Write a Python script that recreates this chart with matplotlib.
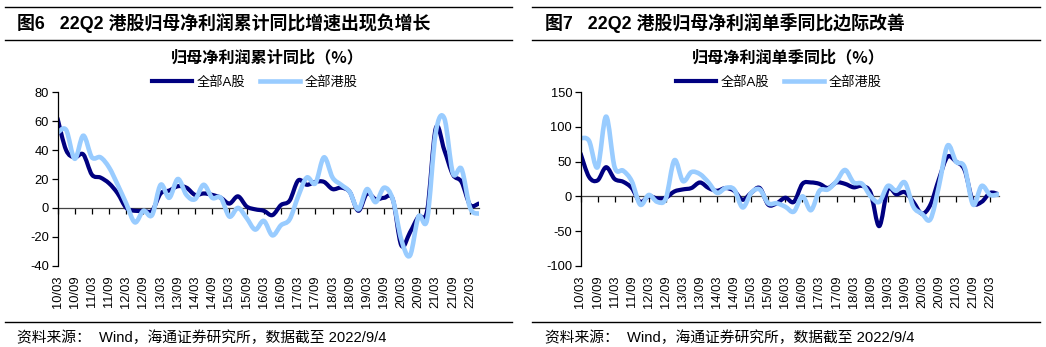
import numpy as np
import matplotlib
matplotlib.use('Agg')
import matplotlib.pyplot as plt
from matplotlib.path import Path
from matplotlib.patches import PathPatch
from matplotlib.lines import Line2D

plt.rcParams['font.family'] = ['Liberation Sans', 'Noto Sans CJK SC', 'DejaVu Sans']

# ── 数据 ─────────────────────────────────────────────────────────────────────
quarters = ['10/03', '10/06', '10/09', '10/12', '11/03', '11/06', '11/09', '11/12',
            '12/03', '12/06', '12/09', '12/12', '13/03', '13/06', '13/09', '13/12',
            '14/03', '14/06', '14/09', '14/12', '15/03', '15/06', '15/09', '15/12',
            '16/03', '16/06', '16/09', '16/12', '17/03', '17/06', '17/09', '17/12',
            '18/03', '18/06', '18/09', '18/12', '19/03', '19/06', '19/09', '19/12',
            '20/03', '20/06', '20/09', '20/12', '21/03', '21/06', '21/09', '21/12',
            '22/03', '22/06']

# 图6 累计同比
a_cum = [62, 40, 35, 37, 23, 21, 17, 10, 0, -2,
         -2, -2, 10, 12, 15, 14, 9, 10, 9, 7,
         3, 8, 1, -1, -2, -5, 2, 5, 19, 16,
         18, 18, 13, 14, 11, -2, 10, 6, 7, 6,
         -26, -17, -6, -2, 55, 40, 23, 18, 2, 3]
hk_cum = [52, 54, 34, 50, 35, 35, 28, 16, 3, -10,
          -2, -5, 16, 7, 20, 9, 6, 16, 7, 7,
          -6, 0, -7, -15, -9, -19, -12, -8, 8, 21,
          17, 35, 21, 16, 11, -1, 13, 4, 14, 6,
          -22, -33, -6, -8, 52, 62, 24, 27, 0, -4]

# 图7 单季同比
a_sq = [62, 28, 23, 42, 25, 21, 12, -8, 0, -3,
        -2, 7, 10, 12, 20, 12, 8, 12, 8, -5,
        5, 12, -12, -10, -2, -8, 18, 20, 18, 12,
        20, 18, 13, 15, 5, -43, 10, 3, 6, -8,
        -25, -12, 25, 57, 50, 38, -8, -8, 5, 3]
hk_sq = [84, 80, 42, 115, 42, 37, 22, -12, 2, -8,
         -3, 52, 22, 35, 32, 20, 5, 12, 10, -16,
         5, 10, -10, -10, -15, -22, 0, -20, 8, 10,
         22, 38, 20, 18, 0, -8, 15, 8, 20, -15,
         -25, -33, 15, 73, 50, 42, -12, 15, 2, 3]

C_A = '#000080'
C_HK = '#99CCFF'
W, H = 1046, 347


def smooth_path(x, y):
    # Excel 风格平滑线：三次贝塞尔曲线，控制点取相邻点差的 1/6
    x = np.asarray(x, float)
    y = np.asarray(y, float)
    pts = np.column_stack([x, y])
    verts = [pts[0]]
    codes = [Path.MOVETO]
    n = len(pts)
    for i in range(n - 1):
        p0 = pts[max(i - 1, 0)]
        p1 = pts[i]
        p2 = pts[i + 1]
        p3 = pts[min(i + 2, n - 1)]
        verts += [p1 + (p2 - p0) / 6, p2 - (p3 - p1) / 6, p2]
        codes += [Path.CURVE4] * 3
    return Path(verts, codes)


def draw_panel(ax, a, hk, ylim, yticks):
    x = np.arange(len(quarters))
    ax.add_patch(PathPatch(smooth_path(x, a), fill=False, edgecolor=C_A,
                           lw=3.0, capstyle='round', joinstyle='round'))
    ax.add_patch(PathPatch(smooth_path(x, hk), fill=False, edgecolor=C_HK,
                           lw=3.3, capstyle='round', joinstyle='round'))
    ax.set_xlim(0, len(quarters) - 1)
    ax.set_ylim(*ylim)
    ax.set_yticks(yticks)
    ax.set_yticklabels([str(v) for v in yticks], fontsize=9.3)
    for s in ['top', 'right', 'bottom']:
        ax.spines[s].set_visible(False)
    ax.spines['left'].set_linewidth(0.9)
    ax.tick_params(axis='y', direction='out', length=4, width=0.9, pad=2)
    # 底部标签
    ax.set_xticks(x[::2])
    ax.set_xticklabels(quarters[::2], rotation=90, fontsize=9.3)
    ax.tick_params(axis='x', length=0, pad=7)
    # 零轴与刻度
    frac = (0 - ylim[0]) / (ylim[1] - ylim[0])
    sec = ax.secondary_xaxis(frac)
    sec.set_xticks(x[::2])
    sec.tick_params(axis='x', direction='out', length=4, width=0.9, labelbottom=False)
    sec.spines['bottom'].set_linewidth(0.9)
    sec.spines['bottom'].set_color('#444444')


fig = plt.figure(figsize=(W / 100, H / 100), dpi=100, facecolor='white')
renderer = fig.canvas.get_renderer()


def fit_width(txt, target_px):
    # 按参考图的文字宽度调整字号
    w = txt.get_window_extent(renderer=renderer).width
    txt.set_fontsize(txt.get_fontsize() * target_px / w)


ax1 = fig.add_axes([57.5 / W, 1 - 265.7 / H, 421.2 / W, (265.7 - 92.3) / H])
draw_panel(ax1, a_cum, hk_cum, (-40, 80), [-40, -20, 0, 20, 40, 60, 80])

ax2 = fig.add_axes([580.5 / W, 1 - 265.7 / H, 418.2 / W, (265.7 - 92.3) / H])
draw_panel(ax2, a_sq, hk_sq, (-100, 150), [-100, -50, 0, 50, 100, 150])


def hline(x0, x1, y, lw=1.0):
    fig.add_artist(Line2D([x0 / W, x1 / W], [1 - y / H, 1 - y / H],
                          color='black', lw=lw, transform=fig.transFigure))


# 框线
for x0, x1 in [(5, 512), (532, 1040)]:
    hline(x0, x1, 7, 1.0)
    hline(x0, x1, 40, 1.0)
    hline(x0, x1, 322, 1.0)

# 标题
t1 = fig.text(17 / W, 1 - 23 / H, '图6   22Q2 港股归母净利润累计同比增速出现负增长',
              fontsize=13, fontweight='bold', va='center', ha='left')
t2 = fig.text(545 / W, 1 - 23 / H, '图7   22Q2 港股归母净利润单季同比边际改善',
              fontsize=13, fontweight='bold', va='center', ha='left')
fit_width(t1, 413)
t2.set_fontsize(t1.get_fontsize())

c1 = fig.text(267 / W, 1 - 57 / H, '归母净利润累计同比（%）', family=['Noto Sans CJK SC'],
              fontsize=11.5, fontweight='bold', va='center', ha='center')
c2 = fig.text(788 / W, 1 - 57 / H, '归母净利润单季同比（%）', family=['Noto Sans CJK SC'],
              fontsize=11.5, fontweight='bold', va='center', ha='center')
fit_width(c1, 193)
c2.set_fontsize(c1.get_fontsize())

# 来源
src = '资料来源：  Wind，海通证券研究所，数据截至 2022/9/4'
s1 = fig.text(17 / W, 1 - 338 / H, src, fontsize=10, va='center', ha='left')
s2 = fig.text(545 / W, 1 - 338 / H, src, fontsize=10, va='center', ha='left')
fit_width(s1, 370)
s2.set_fontsize(s1.get_fontsize())

# 图例
handles = [Line2D([], [], color=C_A, lw=3.0), Line2D([], [], color=C_HK, lw=3.3)]
for cx in [255 / W, 779 / W]:
    fig.legend(handles, ['全部A股', '全部港股'], loc='center',
               bbox_to_anchor=(cx, 1 - 82 / H), ncol=2, frameon=False,
               fontsize=9.5, handlelength=3.0, handletextpad=0.4,
               columnspacing=1.1, borderpad=0)

plt.savefig('out.png', dpi=100, facecolor='white')
plt.close()
